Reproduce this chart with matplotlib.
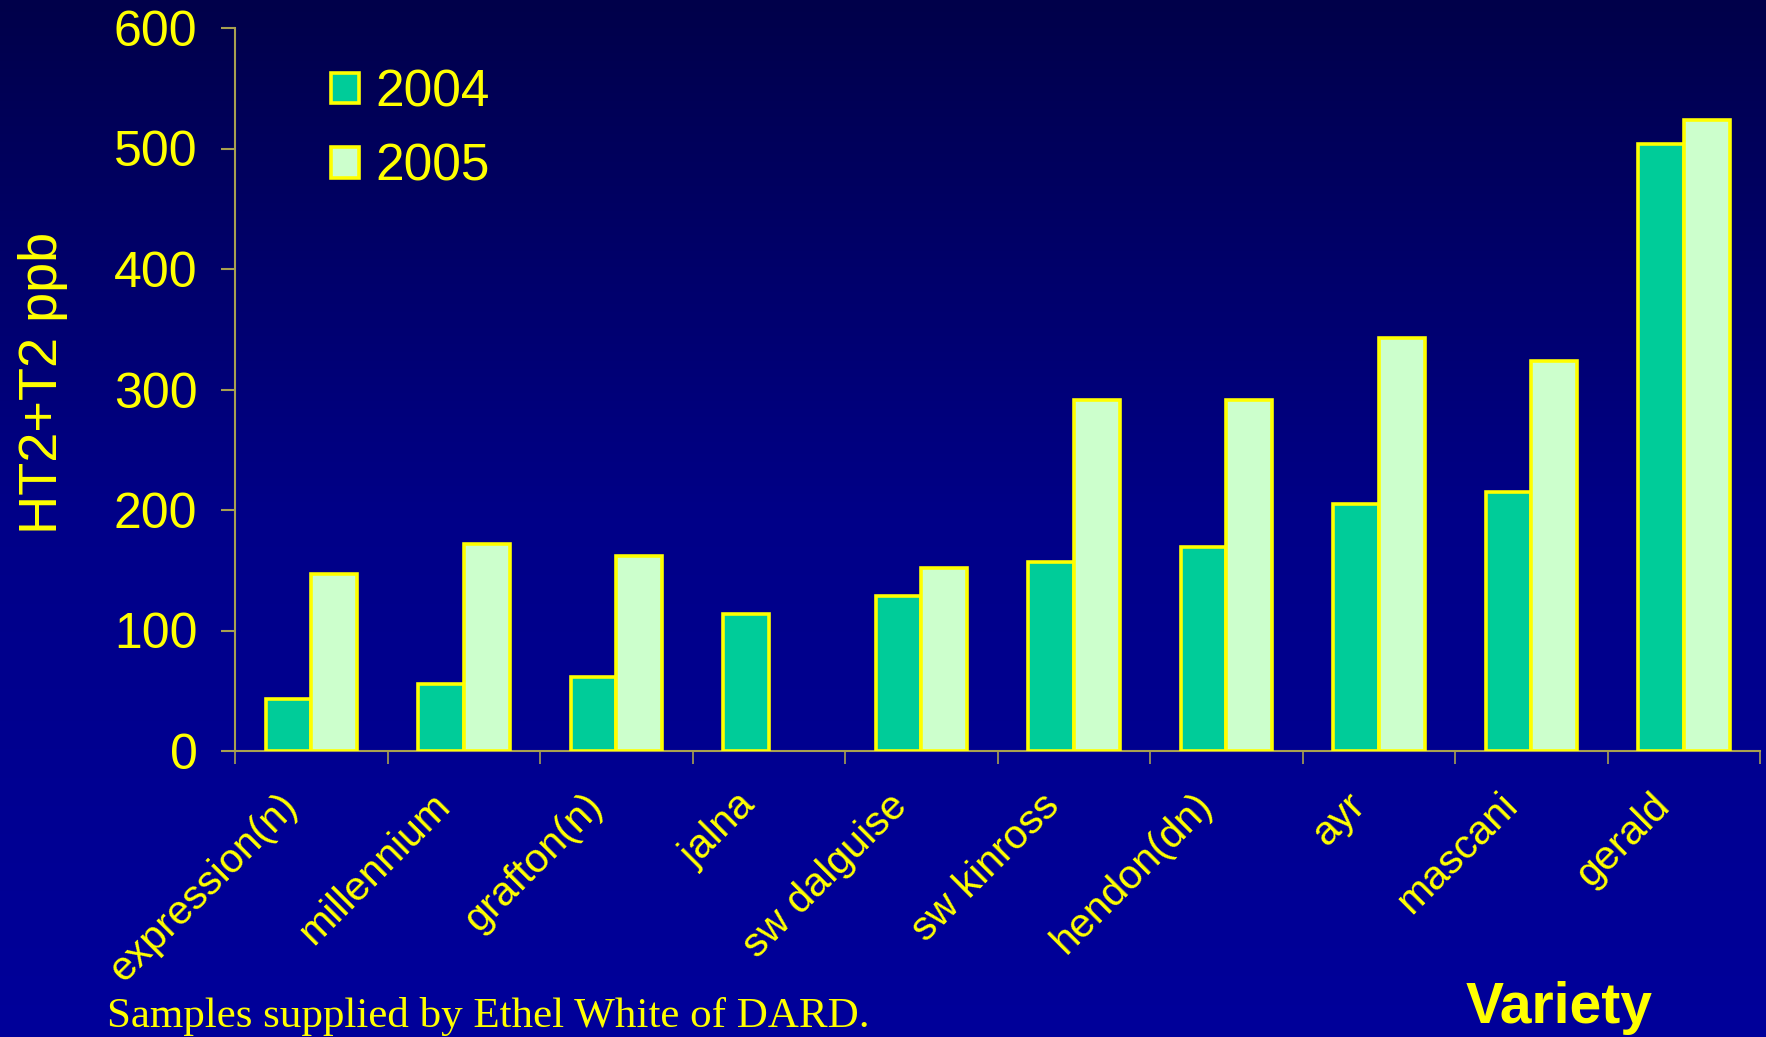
import numpy as np
import matplotlib
matplotlib.use("Agg")
import matplotlib.pyplot as plt
import matplotlib.transforms as mtransforms
from matplotlib.colors import LinearSegmentedColormap

categories = ["expression(n)", "millennium", "grafton(n)", "jalna", "sw dalguise",
              "sw kinross", "hendon(dn)", "ayr", "mascani", "gerald"]
values_2004 = [43, 56, 61, 114, 129, 157, 169, 205, 215, 504]
values_2005 = [147, 172, 162, 0, 152, 291, 291, 343, 324, 524]
series_labels = ["2004", "2005"]
yticks = [0, 100, 200, 300, 400, 500, 600]

W, H = 1766, 1037
fig = plt.figure(figsize=(W / 100, H / 100), dpi=100)

# background gradient
bg = fig.add_axes([0, 0, 1, 1])
cmap = LinearSegmentedColormap.from_list("bg", [(0, "#00004A"), (0.5, "#000088"), (1, "#00009A")])
grad = np.linspace(0, 1, 256).reshape(-1, 1)
bg.imshow(grad, aspect="auto", cmap=cmap, extent=[0, 1, 0, 1], origin="upper")
bg.set_axis_off()

ax = fig.add_axes([235 / W, 1 - 751 / H, (1760 - 235) / W, (751 - 28) / H])
ax.patch.set_alpha(0)

x = np.arange(len(categories))
bw = 0.3
edge = "#FFFF00"
ax.bar(x - bw / 2, values_2004, bw, color="#00CC99", edgecolor=edge, linewidth=2.6,
       label=series_labels[0], zorder=3)
v5 = np.array(values_2005, dtype=float)
mask = v5 > 0
ax.bar(x[mask] + bw / 2, v5[mask], bw, color="#CCFFCC", edgecolor=edge, linewidth=2.6,
       label=series_labels[1], zorder=3)

ax.set_xlim(-0.5, len(categories) - 0.5)
ax.set_ylim(0, 600)
ax.set_yticks(yticks)

axcol = "#A8A050"
for s in ["top", "right"]:
    ax.spines[s].set_visible(False)
for s in ["left", "bottom"]:
    ax.spines[s].set_color(axcol)
    ax.spines[s].set_linewidth(1.5)

ax.tick_params(axis="y", direction="out", length=10, width=1.5, color=axcol,
               labelcolor="#FFFF00", labelsize=36, pad=17)
for lab in ax.get_yticklabels():
    lab.set_fontfamily("Liberation Sans")

ax.set_xticks(x)
ax.set_xticklabels(categories, rotation=45, ha="right", va="center",
                   rotation_mode="anchor", color="#FFFF00", fontsize=29.5,
                   fontfamily="Liberation Sans")
ax.tick_params(axis="x", which="major", length=0, pad=35)
shift = mtransforms.ScaledTranslation(-20 / 100, 0, fig.dpi_scale_trans)
for lab in ax.get_xticklabels():
    lab.set_transform(lab.get_transform() + shift)
ax.set_xticks(np.arange(-0.5, len(categories)), minor=True)
ax.tick_params(axis="x", which="minor", direction="out", length=9, width=1.2, color=axcol)

fig.text(43 / W, 1 - 383 / H, "HT2+T2 ppb", rotation=90, ha="center", va="center",
         color="#FFFF00", fontsize=39, fontfamily="Liberation Sans")

leg = ax.legend(loc="upper left", bbox_to_anchor=((285 - 235) / (1760 - 235), 1 - (22 - 28) / (751 - 28)),
                frameon=False, handlelength=0.54, handleheight=0.54,
                handletextpad=0.32, labelspacing=0.5, prop={"family": "Liberation Sans", "size": 37})
for t in leg.get_texts():
    t.set_color("#FFFF00")
for h in leg.legend_handles:
    h.set_linewidth(2.6)

fig.text(1559 / W, 1 - 1023 / H, "Variety", ha="center", va="baseline", color="#FFFF00",
         fontsize=41, fontweight="bold", fontfamily="Liberation Sans")
fig.text(107 / W, 1 - 1027 / H, "Samples supplied by Ethel White of DARD.", ha="left",
         va="baseline", color="#FFFF00", fontsize=31, fontfamily="Liberation Serif")

fig.savefig("out.png", dpi=100)
